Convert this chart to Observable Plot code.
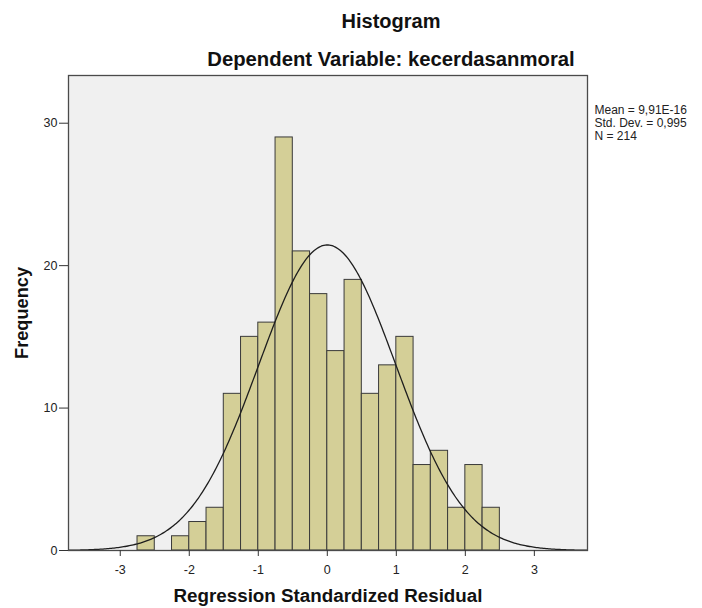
<!DOCTYPE html>
<html>
<head>
<meta charset="utf-8">
<script src="https://cdn.jsdelivr.net/npm/d3@7"></script>
<script src="https://cdn.jsdelivr.net/npm/@observablehq/plot@0.6"></script>
<style>
  html, body { margin: 0; padding: 0; background: #ffffff; }
  #chart { width: 702px; height: 608px; }
  svg { font-family: "Liberation Sans", Arial, sans-serif; }
</style>
</head>
<body>
<div id="chart"></div>
<script>
// Histogram bins (lower edge) and frequencies, bin width 0.25
const binStarts = [-2.75, -2.5, -2.25, -2, -1.75, -1.5, -1.25, -1, -0.75, -0.5, -0.25, 0, 0.25, 0.5, 0.75, 1, 1.25, 1.5, 1.75, 2, 2.25];
const counts    = [1, 0, 1, 2, 3, 11, 15, 16, 29, 21, 18, 14, 19, 11, 13, 15, 6, 7, 3, 6, 3];
const binWidth = 0.25;

// Summary statistics shown in the legend
const statMean = 9.91e-16;
const statSD = 0.995;
const statN = 214;
const statLines = ["Mean = 9,91E-16", "Std. Dev. = 0,995", "N = 214"];

const xTicks = [-3, -2, -1, 0, 1, 2, 3];
const yTicks = [0, 10, 20, 30];
const xDomain = [-3.75, 3.77];
const yDomain = [0, 33.35];

const titleText = "Histogram";
const subtitleText = "Dependent Variable: kecerdasanmoral";
const xLabel = "Regression Standardized Residual";
const yLabel = "Frequency";

const bars = binStarts.map((b, i) => ({x1: b, x2: b + binWidth, count: counts[i]}));

// Fitted normal curve (scaled to frequency), as drawn by SPSS
const curveXs = d3.range(xDomain[0], xDomain[1] + 0.001, 0.02);
const normalCurve = curveXs.map(x => ({
  x,
  y: statN * binWidth * Math.exp(-0.5 * ((x - statMean) / statSD) ** 2) / (statSD * Math.sqrt(2 * Math.PI))
}));

const chart = Plot.plot({
  width: 702,
  height: 608,
  marginLeft: 68,
  marginRight: 115,
  marginTop: 75,
  marginBottom: 58,
  style: {fontFamily: "'Liberation Sans', Arial, sans-serif", background: "#ffffff"},
  x: {domain: xDomain},
  y: {domain: yDomain},
  marks: [
    Plot.frame({fill: "#f0f0f0", stroke: null}),
    Plot.rectY(bars, {x1: "x1", x2: "x2", y: "count", fill: "#d4cf97", stroke: "#3a3a3a", strokeWidth: 1, inset: 0}),
    Plot.line(normalCurve, {x: "x", y: "y", stroke: "#1e1e1e", strokeWidth: 1.3, clip: true}),
    Plot.frame({stroke: "#4a4a4a", strokeWidth: 1.3}),
    Plot.axisX({ticks: xTicks, tickFormat: d => String(d), tickSize: 6, tickPadding: 9, label: null, fontSize: 12.5, stroke: "#333", color: "#222"}),
    Plot.axisY({ticks: yTicks, tickFormat: d => String(d), tickSize: 9, tickPadding: 2, label: null, fontSize: 12.5, stroke: "#333", color: "#222"}),
    Plot.text([titleText], {frameAnchor: "top", dx: 63, dy: -62, fontSize: 20, fontWeight: "bold", fill: "#111"}),
    Plot.text([subtitleText], {frameAnchor: "top", dx: 63, dy: -24, fontSize: 20.3, fontWeight: "bold", fill: "#111"}),
    Plot.text([xLabel], {frameAnchor: "bottom", dy: 51, fontSize: 18.8, fontWeight: "bold", fill: "#111"}),
    Plot.text([yLabel], {frameAnchor: "left", textAnchor: "middle", dx: -46.5, rotate: -90, fontSize: 18.2, fontWeight: "bold", fill: "#111"}),
    Plot.text([statLines.join("\n")], {frameAnchor: "top-right", textAnchor: "start", lineAnchor: "top", dx: 7, dy: 29, fontSize: 12, lineHeight: 1.1, fill: "#222"})
  ]
});
document.getElementById("chart").appendChild(chart);
</script>
</body>
</html>
